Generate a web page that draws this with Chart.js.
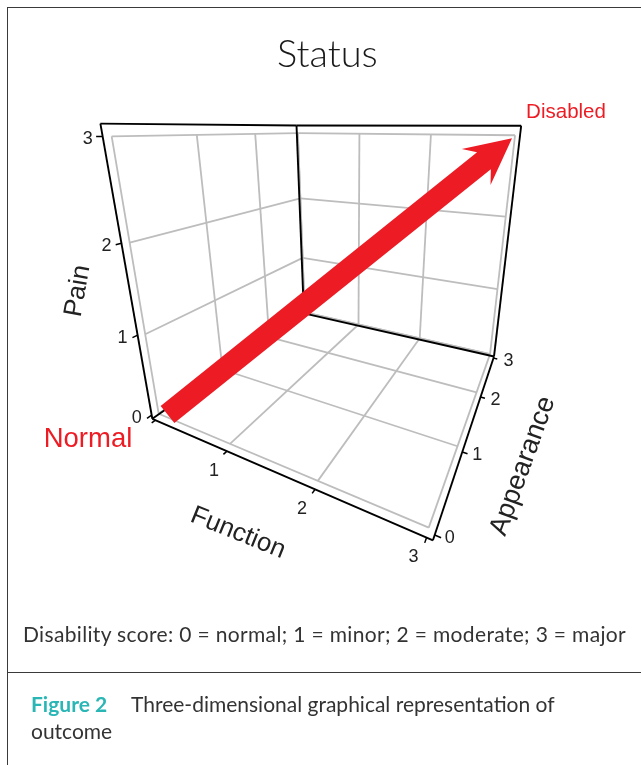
<!DOCTYPE html>
<html>
<head>
<meta charset="utf-8">
<script src="https://cdn.jsdelivr.net/npm/chart.js@4/dist/chart.umd.min.js"></script>
<style>
html, body { margin: 0; padding: 0; background: #fff; }
#page { position: relative; width: 641px; height: 765px; overflow: hidden; }
#myChart { position: absolute; left: 0; top: 0; filter: blur(0.35px); }
.frame { position: absolute; background: #3a3a3a; }
.txt { position: absolute; white-space: nowrap; color: #333; font-family: Lato, sans-serif; line-height: 1; }
</style>
</head>
<body>
<div id="page">
  <canvas id="myChart" width="641" height="765"></canvas>
  <div class="frame" style="left:7px;top:7px;width:634px;height:1px"></div>
  <div class="frame" style="left:7px;top:7px;width:1px;height:758px"></div>
  <div class="frame" style="left:7px;top:672px;width:634px;height:1px"></div>
  <div class="txt" style="left:277px;top:33px;font-size:38px;font-weight:300;color:#1a1a1a">Status</div>
  <div class="txt" style="left:23px;top:623px;font-size:21px;letter-spacing:0.34px">Disability score: 0 = normal; 1 = minor; 2 = moderate; 3 = major</div>
  <div class="txt" style="left:31px;top:693px;font-size:21px"><b style="color:#2bb6b6">Figure 2</b></div>
  <div class="txt" style="left:131px;top:693px;font-size:21px">Three-dimensional graphical representation of</div>
  <div class="txt" style="left:31px;top:720px;font-size:21px">outcome</div>
</div>
<script>
// scores on all three axes
var scores = [0, 1, 2, 3];
var functionTicks = ['', '1', '2', '3'];
var appearanceTicks = ['0', '1', '2', '3'];
var painTicks = ['0', '1', '2', '3'];
// outcome path as [function, appearance, pain]
var normalPoint = [0, 0, 0];
var disabledPoint = [3, 3, 3];
// box limits, a bit past the scores
var lo = -0.05, hi = 3.05, top3 = 3.11;

// the picture is a perspective view, so fit a camera to where the grid crossings sit
var camera = [
    [[0,0,3],113,135], [[0,1,3],197,135], [[0,2,3],253,135], [[0,3,3],297,135],
    [[1,3,3],363,135], [[2,3,3],433,135], [[3,3,3],514,134],
    [[0,0,0],158,414], [[0,0,0],158,414], [[0,1,0],220,357], [[0,2,0],268,330], [[0,3,0],306,312],
    [[1,3,0],361,323], [[2,3,0],420,340], [[3,3,0],487,350],
    [[1,0,0],233,447], [[1,0,0],233,447], [[2,0,0],320,483], [[2,0,0],320,483], [[3,0,0],425,525],
    [[1,1,0],287,397], [[2,1,0],363,418], [[2,1,0],363,418], [[2,2,0],395,377], [[3,1,0],462,447], [[3,2,0],480,397],
    [[0,0,2],125,240], [[0,3,2],298,199], [[3,3,2],503,213],
    [[0,0,1],140,332], [[0,3,1],301,258], [[3,3,1],497,287],
    // box corners
    [[lo,lo,lo],155,421], [[lo,lo,lo],155,421], [[hi,lo,lo],431,536], [[hi,lo,lo],431,536],
    [[hi,hi,lo],493,357], [[lo,hi,lo],305,316],
    [[lo,lo,top3],103,124], [[lo,hi,top3],298,127], [[hi,hi,top3],523,125]
];

function solveCamera() {
    var n = 11, A = [], i, j, k;
    for (i = 0; i < n; i++) { A.push(new Array(n + 1).fill(0)); }
    function addRow(r, b) {
        for (var a = 0; a < n; a++) {
            for (var c = 0; c < n; c++) { A[a][c] += r[a] * r[c]; }
            A[a][n] += r[a] * b;
        }
    }
    camera.forEach(function (c) {
        var p = c[0];
        addRow([p[0], p[1], p[2], 1, 0, 0, 0, 0, -c[1] * p[0], -c[1] * p[1], -c[1] * p[2]], c[1]);
        addRow([0, 0, 0, 0, p[0], p[1], p[2], 1, -c[2] * p[0], -c[2] * p[1], -c[2] * p[2]], c[2]);
    });
    for (i = 0; i < n; i++) {
        var best = i;
        for (k = i + 1; k < n; k++) { if (Math.abs(A[k][i]) > Math.abs(A[best][i])) best = k; }
        var t = A[i]; A[i] = A[best]; A[best] = t;
        for (k = 0; k < n; k++) {
            if (k === i) continue;
            var f = A[k][i] / A[i][i];
            for (j = i; j <= n; j++) { A[k][j] -= f * A[i][j]; }
        }
    }
    return A.map(function (row, r) { return row[n] / row[r]; });
}
var m = solveCamera();

function project(f, a, p) {
    var w = m[8] * f + m[9] * a + m[10] * p + 1;
    return { x: (m[0] * f + m[1] * a + m[2] * p + m[3]) / w, y: (m[4] * f + m[5] * a + m[6] * p + m[7]) / w };
}

function line(from, to, color, width, order) {
    return {
        data: [project(from[0], from[1], from[2]), project(to[0], to[1], to[2])],
        showLine: true, pointRadius: 0, borderColor: color, borderWidth: width, order: order, clip: false
    };
}

var datasets = [];
var GRID = '#bdbdbd', INK = '#000';

scores.forEach(function (s) {
    // floor
    datasets.push(line([s, 0, 0], [s, 3, 0], GRID, 1.8, 3));
    datasets.push(line([0, s, 0], [3, s, 0], GRID, 1.8, 3));
    // wall at function low end
    datasets.push(line([0, s, 0], [0, s, 3], GRID, 1.8, 3));
    datasets.push(line([0, 0, s], [0, 3, s], GRID, 1.8, 3));
    // wall at appearance high end
    datasets.push(line([s, 3, 0], [s, 3, 3], GRID, 1.8, 3));
    datasets.push(line([0, 3, s], [3, 3, s], GRID, 1.8, 3));
    // tick marks
    datasets.push(line([lo, lo, s], [lo, lo - 0.06, s], INK, 1.5, 2));
    datasets.push(line([s, lo, lo], [s, lo - 0.05, lo], INK, 1.5, 2));
    datasets.push(line([hi, s, lo], [hi + 0.05, s, lo], INK, 1.5, 2));
});

// box edges
[
    [[lo, lo, top3], [lo, lo, lo]],
    [[lo, lo, lo], [hi, lo, lo]],
    [[hi, lo, lo], [hi, hi, lo]],
    [[hi, hi, lo], [hi, hi, top3]],
    [[lo, lo, top3], [lo, hi, top3]],
    [[lo, hi, top3], [hi, hi, top3]],
    [[lo, hi, top3], [lo, hi, lo]],
    [[lo, hi, lo], [hi, hi, lo]],
    [[lo, lo, lo], [lo, hi, lo]]
].forEach(function (e) { datasets.push(line(e[0], e[1], INK, 1.9, 2)); });

var arrowSet = {
    data: [project(normalPoint[0], normalPoint[1], normalPoint[2]), project(disabledPoint[0], disabledPoint[1], disabledPoint[2])],
    showLine: false, pointRadius: 0, order: 1
};
datasets.push(arrowSet);

var arrowPlugin = {
    id: 'arrow',
    afterDatasetsDraw: function (chart) {
        var pts = chart.getDatasetMeta(datasets.length - 1).data;
        var c = chart.ctx;
        // the arrow sits slightly off the grid crossings in the picture
        var sx = pts[0].x + 1, sy = pts[0].y + 7, ex = pts[1].x - 3, ey = pts[1].y + 3;
        var dx = ex - sx, dy = ey - sy, len = Math.hypot(dx, dy);
        var ux = dx / len, uy = dy / len, nx = -uy, ny = ux;
        var L = len;
        // along, across from the start point
        var outline = [[10, -11], [L - 36, -11], [L - 46, -23], [L, 0], [L - 46, 23], [L - 36, 11], [10, 11]];
        c.save();
        c.fillStyle = '#ed1c24';
        c.beginPath();
        outline.forEach(function (o, i) {
            var px = sx + ux * o[0] + nx * o[1], py = sy + uy * o[0] + ny * o[1];
            if (i === 0) c.moveTo(px, py); else c.lineTo(px, py);
        });
        c.closePath();
        c.fill();
        c.restore();
    }
};

function put(c, text, x, y, size, color, angle) {
    c.save();
    c.translate(x, y);
    c.rotate((angle || 0) * Math.PI / 180);
    c.font = size + 'px "Liberation Sans", Arial, sans-serif';
    c.fillStyle = color;
    c.textAlign = 'center';
    c.textBaseline = 'middle';
    c.fillText(text, 0, 0);
    c.restore();
}

var labelPlugin = {
    id: 'labels',
    afterDraw: function (chart) {
        var c = chart.ctx, X = chart.scales.x, Y = chart.scales.y;
        function tick(text, q, ox, oy) {
            put(c, text, X.getPixelForValue(q.x) + ox, Y.getPixelForValue(q.y) + oy, 18, '#222');
        }
        scores.forEach(function (s, i) {
            tick(painTicks[i], project(lo, lo, s), -15, 3);
            tick(functionTicks[i], project(s, lo, lo), -13, 20);
            tick(appearanceTicks[i], project(hi, s, lo), 15, 3);
        });
        put(c, 'Pain', 78, 291, 26, '#222', -80);
        put(c, 'Function', 238, 533, 26, '#222', 22);
        put(c, 'Appearance', 523, 466, 27, '#222', -70);
        put(c, 'Normal', 88, 439, 27.5, '#ed1c24');
        put(c, 'Disabled', 566, 112, 20.5, '#ed1c24');
    }
};

var ctx = document.getElementById('myChart').getContext('2d');
var myChart = new Chart(ctx, {
    type: 'scatter',
    data: { datasets: datasets },
    options: {
        responsive: false,
        animation: false,
        layout: { padding: 0 },
        plugins: { legend: { display: false }, tooltip: { enabled: false }, title: { display: false } },
        scales: {
            x: { type: 'linear', min: 0, max: 641, display: false },
            y: { type: 'linear', min: 0, max: 765, reverse: true, display: false }
        }
    },
    plugins: [arrowPlugin, labelPlugin]
});
</script>
</body>
</html>
